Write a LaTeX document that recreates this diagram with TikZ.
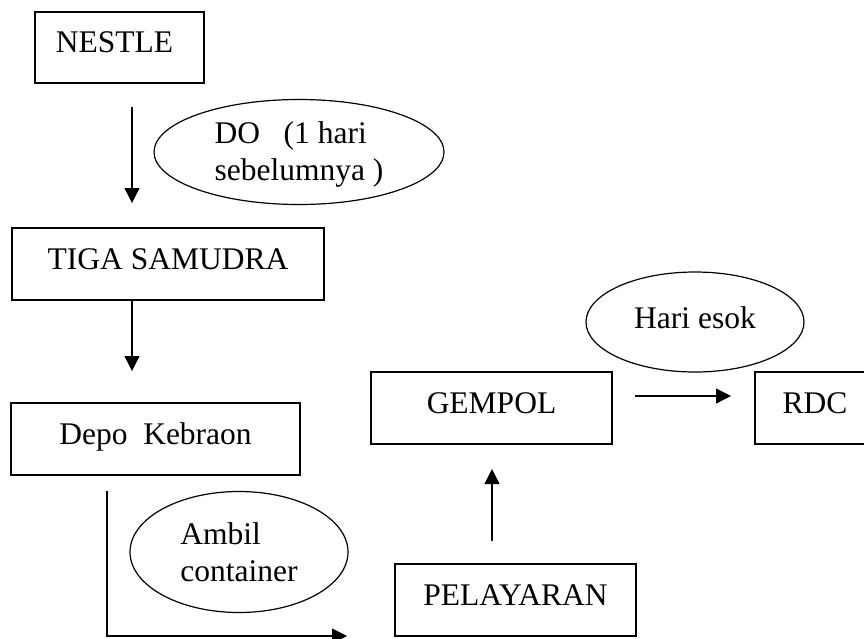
\documentclass[tikz,border=0pt]{standalone}
\usepackage{fontspec}
\setmainfont{Liberation Serif}
\usetikzlibrary{shapes.geometric,arrows.meta}
\begin{document}
\begin{tikzpicture}[x=1pt,y=-1pt,
  box/.style={draw,line width=1.2pt,rectangle,inner sep=0pt,outer sep=0pt,
    font=\fontsize{31.5}{36}\selectfont,text height=20pt,text depth=10pt},
  oval/.style={draw,line width=1.2pt,ellipse,inner sep=0pt,outer sep=0pt,
    font=\fontsize{31.5}{37}\selectfont,align=left},
  arr/.style={line width=1.2pt,-{Triangle[length=15pt,width=15pt]}}]
\useasboundingbox (0,0) rectangle (864,638);
\clip (0,0) rectangle (864,638);
\node[box,minimum width=169pt,minimum height=71pt] (nestle) at (119.5,47.5) {NESTLE\hspace*{10pt}};
\node[box,minimum width=312pt,minimum height=72pt] (tiga) at (168,264) {TIGA SAMUDRA};
\node[box,minimum width=289pt,minimum height=72pt] (depo) at (155.5,439) {Depo\ \ Kebraon};
\node[box,minimum width=241pt,minimum height=72pt] (gempol) at (491.5,408) {GEMPOL};
\node[box,minimum width=241pt,minimum height=72pt] (pel) at (515.5,600) {PELAYARAN};
\node[box,minimum width=120pt,minimum height=72pt] (rdc) at (815,408) {RDC};
\node[oval,minimum width=290pt,minimum height=105pt] (do) at (299,152) {\rule{0pt}{27pt}DO\ \ \ (1 hari\\sebelumnya )};
\node[oval,minimum width=218pt,minimum height=121pt] (ambil) at (239,552) {Ambil\\container};
\node[oval,minimum width=218pt,minimum height=100pt] (hari) at (695,322) {\rule[-8pt]{0pt}{8pt}Hari esok};
\draw[arr,shorten <=24pt,shorten >=25pt] ([xshift=12.5pt]nestle.south) -- ([xshift=-36pt]tiga.north);
\draw[arr,shorten >=32pt] ([xshift=-36pt]tiga.south) -- ([xshift=-23.5pt]depo.north);
\draw[arr,shorten <=16pt,shorten >=48pt] ([xshift=-48.5pt]depo.south) |- (pel.south west);
\draw[arr,shorten <=23pt,shorten >=25pt] ([xshift=-23.5pt]pel.north) -- ([xshift=0.5pt]gempol.south);
\draw[arr,shorten <=23pt,shorten >=24pt] ([yshift=12pt]gempol.east) -- ([yshift=12pt]rdc.west);
\end{tikzpicture}
\end{document}
